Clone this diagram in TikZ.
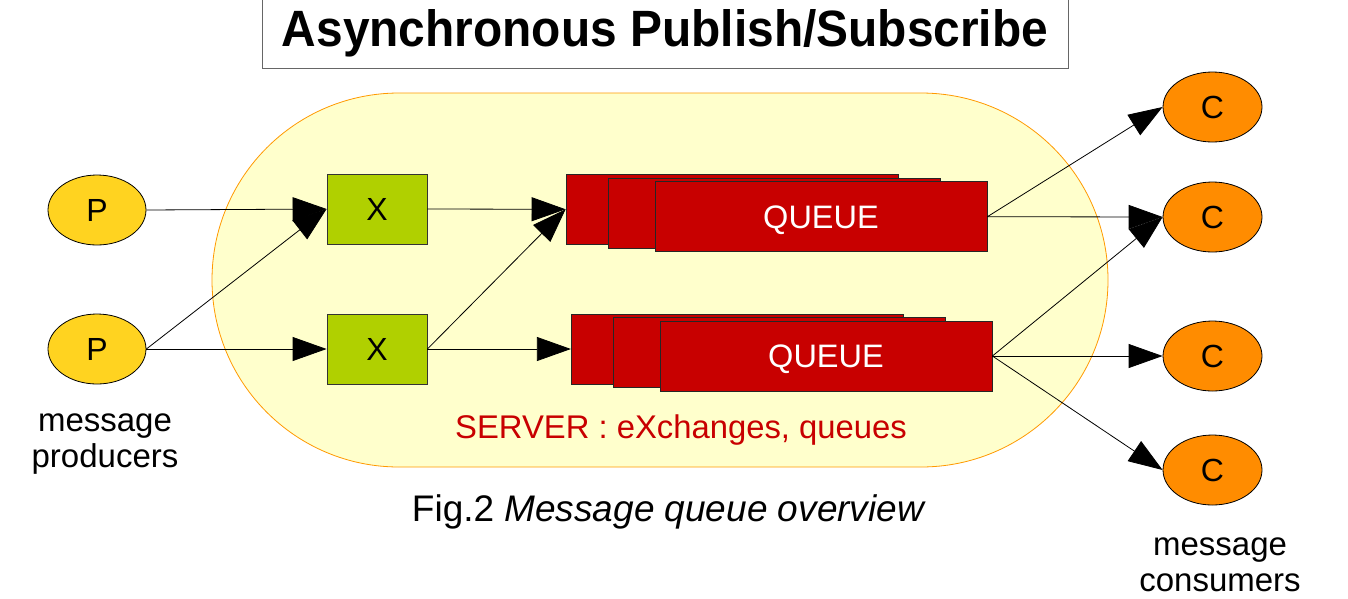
\documentclass[tikz,border=0pt]{standalone}
\usepackage{fontspec}
\setmainfont{Liberation Sans}
\usetikzlibrary{shapes.geometric,arrows.meta}
\definecolor{pfill}{HTML}{FFD320}
\definecolor{xfill}{HTML}{B0D000}
\definecolor{qfill}{HTML}{C80000}
\definecolor{cfill}{HTML}{FF8C00}
\definecolor{srvfill}{HTML}{FFFFCC}
\definecolor{srvline}{HTML}{FF9900}
\tikzset{
  prod/.style={ellipse,draw=black,line width=0.8pt,fill=pfill,minimum width=98pt,minimum height=70pt,inner sep=0pt,font=\fontsize{32}{36}\selectfont},
  cons/.style={ellipse,draw=black,line width=0.8pt,fill=cfill,minimum width=99pt,minimum height=70pt,inner sep=0pt,font=\fontsize{32}{36}\selectfont},
  xbox/.style={rectangle,draw=black!80,line width=0.8pt,fill=xfill,minimum width=100pt,minimum height=70pt,inner sep=0pt,font=\fontsize{32}{36}\selectfont},
  qbox/.style={rectangle,draw=black!85,line width=0.8pt,fill=qfill,minimum width=332pt,minimum height=70pt,inner sep=0pt,text=white,text height=23pt,text depth=0pt,font=\fontsize{32.5}{36}\selectfont},
  link/.style={line width=0.8pt,-{Triangle[length=34pt,width=24pt]}},
  lbl/.style={align=center,font=\fontsize{33}{36}\selectfont,inner sep=0pt}
}
\begin{document}
\begin{tikzpicture}[x=1pt,y=-1pt]
\useasboundingbox (0,0) rectangle (1348,598);
% title
\node[draw=black!60,line width=0.8pt,fill=white,minimum width=806pt,minimum height=72pt,inner sep=0pt] (titlebox) at (665,32) {};
\node (title) at (665,33) {\resizebox{766pt}{37pt}{\bfseries Asynchronous Publish/Subscribe}};
% server
\draw[srvline,fill=srvfill,line width=0.8pt,rounded corners=187pt] (212,93) rectangle (1108,467);
\node[text=qfill,font=\fontsize{32.8}{36}\selectfont] (srvlabel) at (681,430) {SERVER : eXchanges, queues};
% producers
\node[prod] (p1) at (97,210) {P};
\node[prod] (p2) at (97,349) {P};
\node[lbl] (plabel) at (105,444) {message\\producers};
% exchanges
\node[xbox] (x1) at (377,209) {X};
\node[xbox] (x2) at (377,349) {X};
% queues
\node[qbox] (q1a) at (732,209.3) {};
\node[qbox] (q1b) at (774,213) {};
\node[qbox] (q1) at (821,216.7) {QUEUE};
\node[qbox] (q2a) at (737.3,349) {};
\node[qbox] (q2b) at (779,352.5) {};
\node[qbox] (q2) at (826,356) {QUEUE};
% consumers
\node[cons] (c1) at (1212.5,107) {C};
\node[cons] (c2) at (1212.5,217) {C};
\node[cons] (c3) at (1212.5,356) {C};
\node[cons] (c4) at (1212.5,470) {C};
\node[lbl] (clabel) at (1220,565) {message\\consumers};
% caption
\node[font=\fontsize{37}{40}\selectfont] (caption) at (669,512) {Fig.2 \textit{Message queue overview}};
% connectors
\draw[link] (p1.east) -- (x1.west);
\draw[link] (p2.east) -- (x1.west);
\draw[link] (p2.east) -- (x2.west);
\draw[link] (x1.east) -- (q1a.west);
\draw[link] (x2.east) -- (q1a.west);
\draw[link] (x2.east) -- (q2a.west);
\draw[link] (q1.east) -- (c1.west);
\draw[link] (q1.east) -- (c2.west);
\draw[link] (q2.east) -- (c2.west);
\draw[link] (q2.east) -- (c3.west);
\draw[link] (q2.east) -- (c4.west);
\end{tikzpicture}
\end{document}
